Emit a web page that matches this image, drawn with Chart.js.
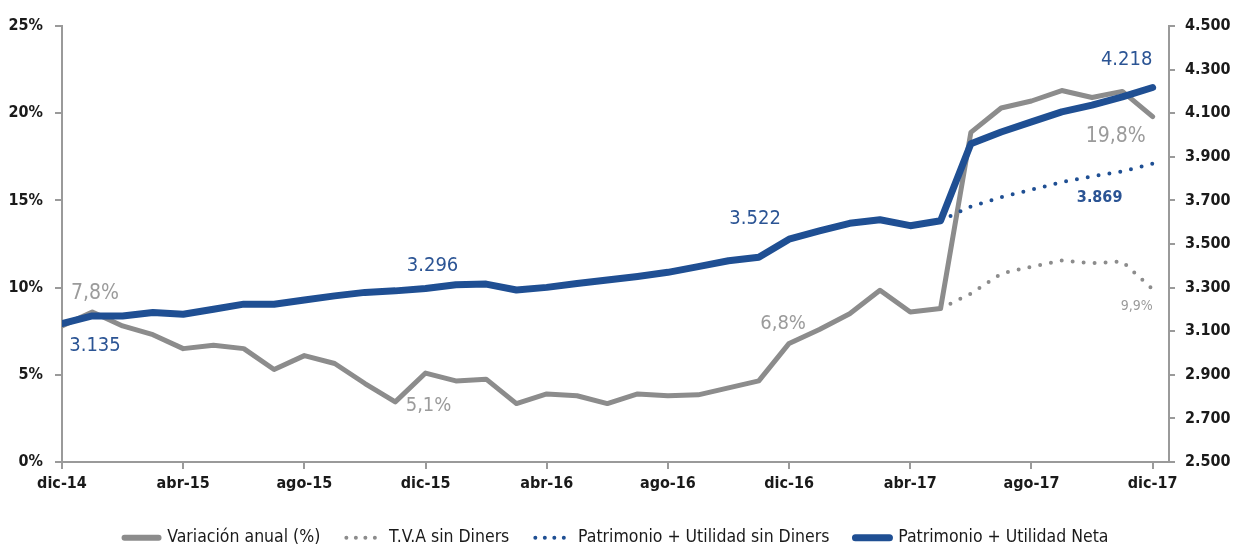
<!DOCTYPE html>
<html>
<head>
<meta charset="utf-8">
<script src="https://cdn.jsdelivr.net/npm/chart.js@4/dist/chart.umd.min.js"></script>
<style>
  html, body { margin: 0; padding: 0; background: #fff; }
  #wrap { width: 1233px; height: 549px; }
</style>
</head>
<body>
<div id="wrap"><canvas id="chart"></canvas></div>
<script>
// months dic-14 .. dic-17
const months = ['dic-14','ene-15','feb-15','mar-15','abr-15','may-15','jun-15','jul-15','ago-15','sep-15','oct-15','nov-15',
  'dic-15','ene-16','feb-16','mar-16','abr-16','may-16','jun-16','jul-16','ago-16','sep-16','oct-16','nov-16',
  'dic-16','ene-17','feb-17','mar-17','abr-17','may-17','jun-17','jul-17','ago-17','sep-17','oct-17','nov-17','dic-17'];

// left axis (%)
const variacionAnual = [7.8, 8.6, 7.8, 7.3, 6.5, 6.7, 6.5, 5.3, 6.1, 5.65, 4.5, 3.45,
  5.1, 4.65, 4.75, 3.35, 3.9, 3.8, 3.35, 3.9, 3.8, 3.85, 4.25, 4.65,
  6.8, 7.6, 8.5, 9.85, 8.6, 8.8, 18.9, 20.3, 20.7, 21.3, 20.9, 21.25, 19.8];
const tvaSinDiners = [null, null, null, null, null, null, null, null, null, null, null, null,
  null, null, null, null, null, null, null, null, null, null, null, null,
  null, null, null, null, null, 8.8, 9.65, 10.8, 11.2, 11.55, 11.4, 11.5, 9.9];

// right axis (millones)
const patrimonioNeta = [3135, 3170, 3170, 3186, 3178, 3201, 3224, 3224, 3243, 3262, 3278, 3285,
  3296, 3313, 3316, 3289, 3301, 3319, 3335, 3351, 3370, 3396, 3423, 3439,
  3522, 3560, 3595, 3611, 3584, 3607, 3960, 4014, 4060, 4106, 4137, 4175, 4218];
const patrimonioSinDiners = [null, null, null, null, null, null, null, null, null, null, null, null,
  null, null, null, null, null, null, null, null, null, null, null, null,
  null, null, null, null, null, 3607, 3672, 3715, 3749, 3784, 3810, 3833, 3869];

const leftTicks = [0, 5, 10, 15, 20, 25];
const rightTicks = [2500, 2700, 2900, 3100, 3300, 3500, 3700, 3900, 4100, 4300, 4500];

const BLUE = '#1f4f93';
const GRAY = '#8c8c8c';
const LBL_BLUE = '#2b5494';
const LBL_GRAY = '#9b9b9b';
const FONT = "'Liberation Sans Narrow', 'DejaVu Sans Condensed', sans-serif";

function toPoints(arr) {
  return arr.map((v, i) => ({ x: i, y: v })).filter(p => p.y !== null);
}
function fmtThousands(v) {
  return String(v).replace(/\B(?=(\d{3})+(?!\d))/g, '.');
}

// value labels: dataset index, point index, text, offset
const valueLabels = [
  { ds: 0, i: 0, text: '7,8%', dx: 33, dy: -32, color: LBL_GRAY, size: 21, weight: 'normal' },
  { ds: 3, i: 0, text: '3.135', dx: 33, dy: 22, color: LBL_BLUE, size: 20, weight: 'normal' },
  { ds: 3, i: 12, text: '3.296', dx: 7, dy: -23, color: LBL_BLUE, size: 20, weight: 'normal' },
  { ds: 0, i: 12, text: '5,1%', dx: 3, dy: 33, color: LBL_GRAY, size: 20, weight: 'normal' },
  { ds: 3, i: 24, text: '3.522', dx: -34, dy: -20, color: LBL_BLUE, size: 20, weight: 'normal' },
  { ds: 0, i: 24, text: '6,8%', dx: -6, dy: -20, color: LBL_GRAY, size: 20, weight: 'normal' },
  { ds: 3, i: 36, text: '4.218', dx: -26, dy: -28, color: LBL_BLUE, size: 20, weight: 'normal' },
  { ds: 0, i: 36, text: '19,8%', dx: -37, dy: 20, color: LBL_GRAY, size: 21, weight: 'normal' },
  { ds: 2, i: 36, text: '3.869', dx: -53, dy: 34, color: LBL_BLUE, size: 16, weight: 'bold' },
  { ds: 1, i: 36, text: '9,9%', dx: -16, dy: 17, color: LBL_GRAY, size: 14, weight: 'normal' }
];

// legend symbol thickness per dataset
const legendWidths = [6, 4, 4, 7];

const labelPlugin = {
  id: 'valueLabels',
  afterDatasetsDraw(chart) {
    const ctx = chart.ctx;
    ctx.save();
    ctx.textAlign = 'center';
    ctx.textBaseline = 'middle';
    valueLabels.forEach(l => {
      const ds = chart.data.datasets[l.ds];
      const pt = ds.data.find(p => p.x === l.i);
      if (!pt) return;
      const x = chart.scales.x.getPixelForValue(pt.x);
      const y = chart.scales[ds.yAxisID].getPixelForValue(pt.y);
      ctx.font = l.weight + ' ' + l.size + 'px ' + FONT;
      ctx.fillStyle = l.color;
      ctx.fillText(l.text, x + l.dx, y + l.dy);
    });
    ctx.restore();
  }
};

const legendFitPlugin = {
  id: 'legendFit',
  beforeInit(chart) {
    const origFit = chart.legend.fit;
    chart.legend.fit = function () {
      origFit.call(this);
      this.height = 46;
    };
  }
};

const axisColor = '#9a9a9a';

new Chart(document.getElementById('chart'), {
  type: 'line',
  data: {
    datasets: [
      {
        label: 'Variación anual (%)',
        data: toPoints(variacionAnual),
        yAxisID: 'y',
        borderColor: GRAY,
        backgroundColor: GRAY,
        borderWidth: 5,
        borderCapStyle: 'round',
        borderJoinStyle: 'round',
        pointRadius: 0,
        tension: 0,
        order: 4
      },
      {
        label: 'T.V.A sin Diners',
        data: toPoints(tvaSinDiners),
        yAxisID: 'y',
        borderColor: GRAY,
        backgroundColor: GRAY,
        borderWidth: 4,
        borderDash: [0, 11],
        borderCapStyle: 'round',
        pointRadius: 0,
        tension: 0,
        order: 3
      },
      {
        label: 'Patrimonio + Utilidad sin Diners',
        data: toPoints(patrimonioSinDiners),
        yAxisID: 'y1',
        borderColor: BLUE,
        backgroundColor: BLUE,
        borderWidth: 4,
        borderDash: [0, 11],
        borderCapStyle: 'round',
        pointRadius: 0,
        tension: 0,
        order: 2
      },
      {
        label: 'Patrimonio + Utilidad Neta',
        data: toPoints(patrimonioNeta),
        yAxisID: 'y1',
        borderColor: BLUE,
        backgroundColor: BLUE,
        borderWidth: 7,
        borderCapStyle: 'round',
        borderJoinStyle: 'round',
        pointRadius: 0,
        tension: 0,
        order: 1
      }
    ]
  },
  options: {
    responsive: true,
    maintainAspectRatio: false,
    animation: false,
    layout: { padding: { top: 26, left: 0, right: 0, bottom: 0 } },
    plugins: {
      tooltip: { enabled: false },
      legend: {
        position: 'bottom',
        labels: {
          usePointStyle: true,
          pointStyleWidth: 34,
          boxHeight: 17,
          padding: 26,
          color: '#1a1a1a',
          font: { family: FONT, size: 17.5 },
          generateLabels(chart) {
            return chart.data.datasets.map((ds, i) => ({
              text: ds.label,
              datasetIndex: i,
              hidden: false,
              fillStyle: ds.borderColor,
              strokeStyle: ds.borderColor,
              lineWidth: legendWidths[i],
              lineDash: ds.borderDash ? [0, 9.5] : [],
              lineCap: 'round',
              pointStyle: 'line',
              fontColor: '#1a1a1a'
            }));
          }
        }
      }
    },
    scales: {
      x: {
        type: 'linear',
        min: 0,
        max: 36.54,
        afterFit(scale) { scale.height = 41; },
        border: { display: true, color: axisColor, width: 2 },
        grid: { drawOnChartArea: false, drawTicks: true, tickLength: 7, color: axisColor, lineWidth: 2 },
        ticks: {
          stepSize: 4,
          includeBounds: false,
          padding: 5,
          maxRotation: 0,
          autoSkip: false,
          color: '#1a1a1a',
          font: { family: FONT, size: 16, weight: 'bold' },
          callback: v => months[v] || ''
        }
      },
      y: {
        position: 'left',
        min: 0,
        max: 25,
        afterFit(scale) { scale.width = 62; },
        afterBuildTicks(scale) { scale.ticks = leftTicks.map(v => ({ value: v })); },
        border: { display: true, color: axisColor, width: 2 },
        grid: { drawOnChartArea: false, drawTicks: true, tickLength: 7, color: axisColor, lineWidth: 2 },
        ticks: {
          padding: 12,
          color: '#1a1a1a',
          font: { family: FONT, size: 16, weight: 'bold' },
          callback: v => v + '%'
        }
      },
      y1: {
        position: 'right',
        min: 2500,
        max: 4500,
        afterFit(scale) { scale.width = 64; },
        afterBuildTicks(scale) { scale.ticks = rightTicks.map(v => ({ value: v })); },
        border: { display: true, color: axisColor, width: 2 },
        grid: { drawOnChartArea: false, drawTicks: true, tickLength: 6, color: axisColor, lineWidth: 2 },
        ticks: {
          padding: 10,
          color: '#1a1a1a',
          font: { family: FONT, size: 16, weight: 'bold' },
          callback: v => fmtThousands(v)
        }
      }
    }
  },
  plugins: [labelPlugin, legendFitPlugin]
});
</script>
</body>
</html>
